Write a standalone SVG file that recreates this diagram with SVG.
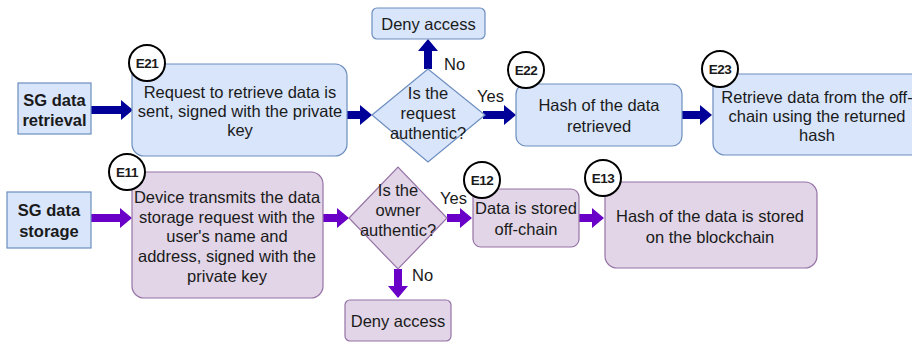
<svg xmlns="http://www.w3.org/2000/svg" width="912" height="342" viewBox="0 0 912 342">
<style>
text{font-family:"Liberation Sans",Arial,sans-serif;font-size:16.5px;fill:#1a1a1a;text-anchor:middle;dominant-baseline:central}
.b{fill:#d8e5fa;stroke:#6c8ebf;stroke-width:1.2}
.p{fill:#e1d5e7;stroke:#9673a6;stroke-width:1.2}
.bold{font-weight:bold}
.c{fill:#fff;stroke:#000;stroke-width:2}
.cl{font-size:13.5px;font-weight:bold;letter-spacing:-0.5px}
.ab{fill:#000099}
.ap{fill:#6a00c8}
.lbl{text-anchor:start}
</style>
<rect width="912" height="342" fill="#fff"/>
<g id="connectors">
<polygon class="ab" points="91,106 121,106 121,100 133,110 121,120 121,114 91,114"/>
<polygon class="ab" points="347,111 360,111 360,105 372,115 360,125 360,119 347,119"/>
<polygon class="ab" points="424,69 424,51 418,51 428,39 438,51 432,51 432,69"/>
<polygon class="ab" points="483,111 504,111 504,105 516,115 504,125 504,119 483,119"/>
<polygon class="ab" points="682,111 700,111 700,105 712,115 700,125 700,119 682,119"/>
<polygon class="ap" points="91,214 120,214 120,208 132,218 120,228 120,222 91,222"/>
<polygon class="ap" points="323,214 337,214 337,208 349,218 337,228 337,222 323,222"/>
<polygon class="ap" points="394,269 394,286 388,286 398,298 408,286 402,286 402,269"/>
<polygon class="ap" points="447,214 460,214 460,208 472,218 460,228 460,222 447,222"/>
<polygon class="ap" points="579,214 592,214 592,208 604,218 592,228 592,222 579,222"/>
<text class="lbl" x="444" y="64">No</text>
<text class="lbl" x="477" y="96">Yes</text>
<text class="lbl" x="412" y="275">No</text>
<text class="lbl" x="440" y="198">Yes</text>
</g>
<g id="sg-retrieval">
<rect class="b" x="18" y="83" width="73" height="51"/>
<text class="bold" x="54.5" y="100">SG data</text>
<text class="bold" x="54.5" y="120">retrieval</text>
</g>
<g id="e21">
<rect class="b" x="132" y="64" width="215" height="92" rx="12"/>
<text x="240" y="92">Request to retrieve data is</text>
<text x="240" y="111">sent, signed with the private</text>
<text x="240" y="130">key</text>
<circle class="c" cx="147" cy="63" r="18"/>
<text class="cl" x="147" y="63">E21</text>
</g>
<g id="q-request">
<polygon class="b" points="372,115 428,69 485,115 428,162"/>
<text x="428" y="93">Is the</text>
<text x="428" y="113">request</text>
<text x="428" y="133">authentic?</text>
</g>
<g id="deny-top">
<rect class="b" x="372" y="8" width="113" height="31" rx="5"/>
<text x="428.5" y="23.5">Deny access</text>
</g>
<g id="e22">
<rect class="b" x="516" y="84" width="166" height="62" rx="10"/>
<text x="599" y="105">Hash of the data</text>
<text x="599" y="126">retrieved</text>
<circle class="c" cx="526" cy="70" r="18"/>
<text class="cl" x="526" y="70">E22</text>
</g>
<g id="e23">
<rect class="b" x="713" y="74" width="215" height="81" rx="12"/>
<text x="817" y="97">Retrieve data from the off-</text>
<text x="817" y="116">chain using the returned</text>
<text x="817" y="135">hash</text>
<circle class="c" cx="720" cy="69" r="18"/>
<text class="cl" x="720" y="69">E23</text>
</g>
<g id="sg-storage">
<rect class="b" x="7" y="192" width="84" height="56"/>
<text class="bold" x="49" y="210">SG data</text>
<text class="bold" x="49" y="231">storage</text>
</g>
<g id="e11">
<rect class="p" x="132" y="172" width="191" height="126" rx="12"/>
<text x="227" y="197">Device transmits the data</text>
<text x="227" y="217">storage request with the</text>
<text x="227" y="236">user's name and</text>
<text x="227" y="256">address, signed with the</text>
<text x="227" y="276">private key</text>
<circle class="c" cx="127" cy="172" r="18"/>
<text class="cl" x="127" y="172">E11</text>
</g>
<g id="q-owner">
<polygon class="p" points="349,218 398,167 447,218 398,269"/>
<text x="398" y="190">Is the</text>
<text x="398" y="210">owner</text>
<text x="398" y="230">authentic?</text>
</g>
<g id="deny-bottom">
<rect class="p" x="345" y="300" width="106" height="41" rx="5"/>
<text x="398" y="321">Deny access</text>
</g>
<g id="e12">
<rect class="p" x="473" y="189" width="106" height="58" rx="8"/>
<text x="526" y="208">Data is stored</text>
<text x="526" y="229">off-chain</text>
<circle class="c" cx="482" cy="180" r="18"/>
<text class="cl" x="482" y="180">E12</text>
</g>
<g id="e13">
<rect class="p" x="605" y="182" width="212" height="86" rx="12"/>
<text x="710" y="216">Hash of the data is stored</text>
<text x="710" y="237">on the blockchain</text>
<circle class="c" cx="603" cy="178" r="18"/>
<text class="cl" x="603" y="178">E13</text>
</g>
</svg>
